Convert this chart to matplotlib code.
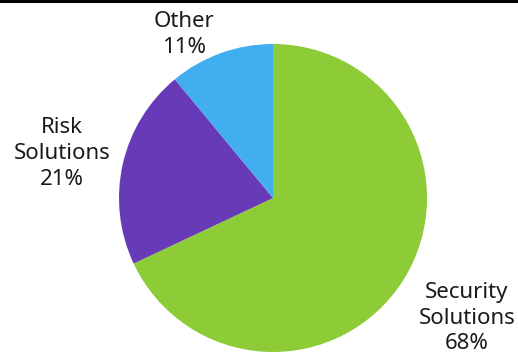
import numpy as np
import matplotlib.pyplot as plt

# DATA
labels = ["Security\nSolutions", "Risk\nSolutions", "Other"]
shares = [68, 21, 11]
colors = ["#8dcb37", "#673ab7", "#41aeef"]
# label centres, in pie-radius units
label_pos = [(1.26, -0.78), (-1.37, 0.29), (-0.58, 1.06)]

W, H = 518, 358
fig = plt.figure(figsize=(W / 100, H / 100), dpi=100)

# pie centre (273, 198) px from top, radius 154 px
cx, cy, r = 273, H - 198, 154
ax = fig.add_axes([(cx - r) / W, (cy - r) / H, 2 * r / W, 2 * r / H])

wedges, _ = ax.pie(shares, colors=colors, startangle=90, counterclock=False,
                   wedgeprops=dict(linewidth=0))
ax.set_xlim(-1, 1)
ax.set_ylim(-1, 1)
ax.set_aspect("equal")

for lab, val, (x, y) in zip(labels, shares, label_pos):
    ax.text(x, y, f"{lab}\n{val}%", ha="center", va="center", fontsize=16,
            family="Noto Sans", color="#1a1a1a", linespacing=1.3, clip_on=False)

# black rule along the top
fig.add_artist(plt.Line2D([0, 1], [1 - 1 / H, 1 - 1 / H], color="black",
                          linewidth=2.2, transform=fig.transFigure))

fig.savefig("out.png", dpi=100)
